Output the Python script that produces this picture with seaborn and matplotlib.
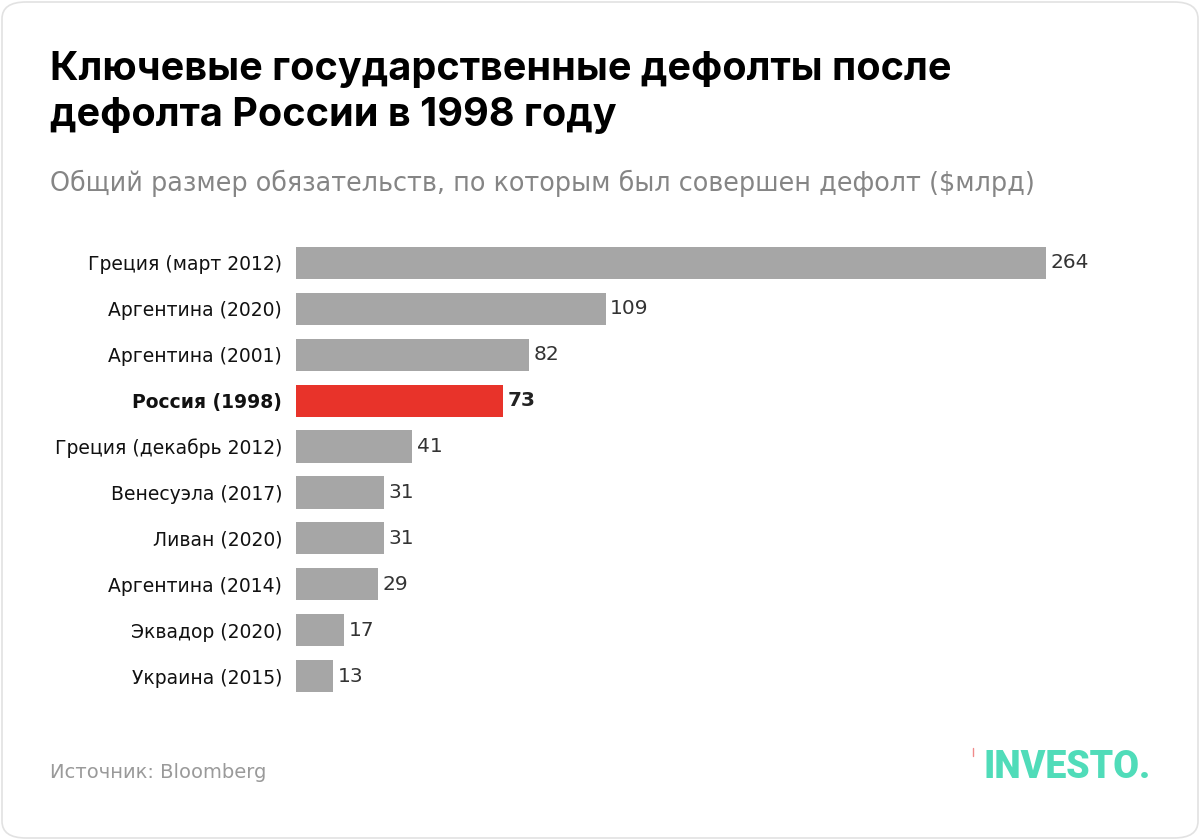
import matplotlib
matplotlib.use("Agg")
import matplotlib.pyplot as plt
import seaborn as sns
import pandas as pd
from matplotlib.patches import FancyBboxPatch
from matplotlib.lines import Line2D

categories = ["Греция (март 2012)", "Аргентина (2020)", "Аргентина (2001)",
              "Россия (1998)", "Греция (декабрь 2012)", "Венесуэла (2017)",
              "Ливан (2020)", "Аргентина (2014)", "Эквадор (2020)", "Украина (2015)"]
values = [264, 109, 82, 73, 41, 31, 31, 29, 17, 13]
highlight = "Россия (1998)"

title = "Ключевые государственные дефолты после\nдефолта России в 1998 году"
subtitle = "Общий размер обязательств, по которым был совершен дефолт ($млрд)"
source = "Источник: Bloomberg"

GRAY = "#a6a6a6"
RED = "#e8332a"

sns.set_theme(style="white")
plt.rcParams["font.family"] = ["DejaVu Sans"]

df = pd.DataFrame({"cat": categories, "val": values})
df["grp"] = ["hl" if c == highlight else "base" for c in categories]

fig = plt.figure(figsize=(12, 8.4), dpi=100)
fig.patch.set_facecolor("white")

# rounded border
border = FancyBboxPatch((2/1200, 2/840), 1 - 4/1200, 1 - 4/840,
                        boxstyle="round,pad=0,rounding_size=0.02",
                        transform=fig.transFigure, facecolor="white",
                        edgecolor="#e2e2e2", linewidth=1.2, zorder=-10)
fig.patches.append(border)

ax = fig.add_axes([296/1200, 1 - 699/840, 852.3/1200, (699 - 240)/840])
sns.barplot(data=df, y="cat", x="val", hue="grp", palette={"base": GRAY, "hl": RED},
            order=categories, width=0.70, legend=False, ax=ax, saturation=1,
            linewidth=0, edgecolor="none")
ax.set_xlim(0, 300)
ax.set_ylim(9.5, -0.5)
ax.set_xlabel("")
ax.set_ylabel("")
ax.set_xticks([])
for s in ax.spines.values():
    s.set_visible(False)
ax.set_facecolor("none")
ax.tick_params(axis="y", length=0, pad=10, labelsize=13.5, labelcolor="#111111")
for lbl in ax.get_yticklabels():
    if lbl.get_text() == highlight:
        lbl.set_fontweight("bold")

for i, (c, v) in enumerate(zip(categories, values)):
    bold = c == highlight
    ax.text(v + 1.6, i, f"{v}", va="center", ha="left", fontsize=14.5,
            color="#222222" if bold else "#333333",
            fontweight="bold" if bold else "normal")

fig.text(50/1200, 1 - 51/840, title, ha="left", va="top", fontsize=28.5,
         fontweight="bold", color="#000000", family=["Inter", "DejaVu Sans"],
         linespacing=1.3)
fig.text(50/1200, 1 - 183/840, subtitle, ha="left", va="center", fontsize=18.4,
         color="#858585")
fig.text(50/1200, 1 - 773/840, source, ha="left", va="center", fontsize=14,
         color="#9a9a9a")
fig.text(1151/1200, 1 - 778/840, "INVESTO.", ha="right", va="baseline", fontsize=27,
         fontweight="black", color="#50dcb9",
         family=["Roboto", "DejaVu Sans"])
fig.add_artist(Line2D([973/1200, 973/1200], [1 - 748/840, 1 - 756/840],
                      transform=fig.transFigure, color="#f08a8a", lw=1))

fig.savefig("out.png", dpi=100, facecolor="white")
